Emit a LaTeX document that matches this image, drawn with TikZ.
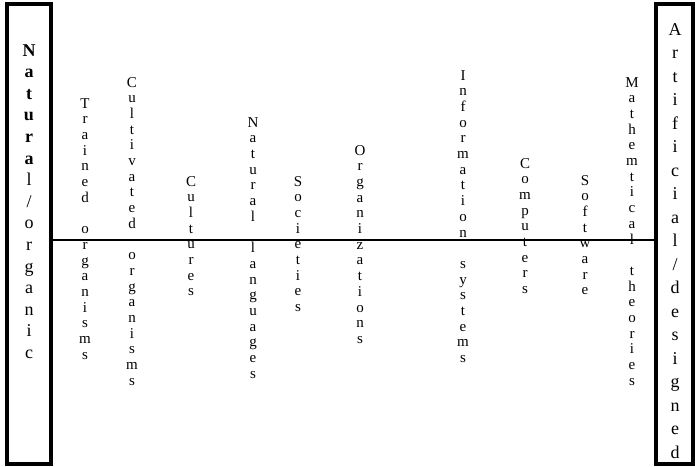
\documentclass[tikz,border=0pt]{standalone}
\usepackage{fontspec}
\setmainfont{Liberation Serif}
\newcommand\vlabel[1]{\parbox[t]{2em}{\centering #1}}
\tikzset{
  frame/.style={draw=black, line width=4pt, inner sep=0pt, outer sep=0pt},
  coltext/.style={font=\fontsize{15}{15.7}\selectfont, inner sep=0pt, anchor=base},
  lefttext/.style={font=\fontsize{18}{21.6}\selectfont, inner sep=0pt, anchor=base},
  righttext/.style={font=\fontsize{18}{23.5}\selectfont, inner sep=0pt, anchor=base},
  axisline/.style={draw=black, line width=2pt}
}
\begin{document}
\begin{tikzpicture}[x=1pt, y=-1pt]
\useasboundingbox (0,0) rectangle (695,466);
% boxes
\node[frame, minimum width=44pt, minimum height=459.5pt] (L) at (29,233.75) {};
\node[frame, minimum width=37pt, minimum height=459.5pt] (R) at (674.5,233.75) {};
\coordinate (ly) at (0,239.5);
\draw[axisline] (L.east |- ly) -- (R.west |- ly);
% box texts
\node[lefttext] (lt) at (29,56) {\vlabel{\textbf{N}\\\textbf{a}\\\textbf{t}\\\textbf{u}\\\textbf{r}\\\textbf{a}\\l\\/\\o\\r\\g\\a\\n\\i\\c}};
\node[righttext] (rt) at (675,35) {\vlabel{A\\r\\t\\i\\f\\i\\c\\i\\a\\l\\/\\d\\e\\s\\i\\g\\n\\e\\d}};
% columns
\node[coltext] (c1) at (85,108) {\vlabel{T\\r\\a\\i\\n\\e\\d\\~\\o\\r\\g\\a\\n\\i\\s\\m\\s}};
\node[coltext] (c2) at (132,87) {\vlabel{C\\u\\l\\t\\i\\v\\a\\t\\e\\d\\~\\o\\r\\g\\a\\n\\i\\s\\m\\s}};
\node[coltext] (c3) at (191,186) {\vlabel{C\\u\\l\\t\\u\\r\\e\\s}};
\node[coltext] (c4) at (253,127) {\vlabel{N\\a\\t\\u\\r\\a\\l\\~\\l\\a\\n\\g\\u\\a\\g\\e\\s}};
\node[coltext] (c5) at (298,186) {\vlabel{S\\o\\c\\i\\e\\t\\i\\e\\s}};
\node[coltext] (c6) at (360,155) {\vlabel{O\\r\\g\\a\\n\\i\\z\\a\\t\\i\\o\\n\\s}};
\node[coltext] (c7) at (463,80) {\vlabel{I\\n\\f\\o\\r\\m\\a\\t\\i\\o\\n\\~\\s\\y\\s\\t\\e\\m\\s}};
\node[coltext] (c8) at (525,168) {\vlabel{C\\o\\m\\p\\u\\t\\e\\r\\s}};
\node[coltext] (c9) at (585,185) {\vlabel{S\\o\\f\\t\\w\\a\\r\\e}};
\node[coltext] (c10) at (632,87) {\vlabel{M\\a\\t\\h\\e\\m\\t\\i\\c\\a\\l\\~\\t\\h\\e\\o\\r\\i\\e\\s}};
\end{tikzpicture}
\end{document}
